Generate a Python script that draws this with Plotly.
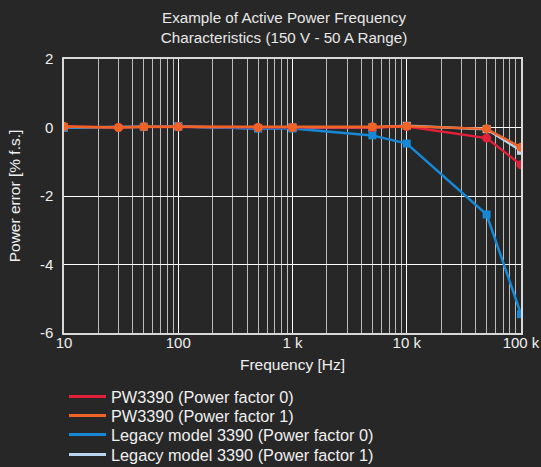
import plotly.graph_objects as go

title_text = "Example of Active Power Frequency<br>Characteristics (150 V - 50 A Range)"
x_title = "Frequency [Hz]"
y_title = "Power error [% f.s.]"

freq_pw = [10, 30, 50, 100, 500, 1000, 5000, 10000, 50000, 100000]
pw_pf0 = [0.03, 0.0, 0.02, 0.02, 0.0, 0.0, 0.0, 0.03, -0.31, -1.09]
pw_pf1 = [0.03, 0.0, 0.02, 0.02, 0.0, 0.0, 0.02, 0.04, -0.04, -0.58]

freq_legacy = [10, 50, 100, 500, 1000, 5000, 10000, 50000, 100000]
leg_pf0 = [0.0, 0.02, 0.03, -0.03, -0.03, -0.23, -0.47, -2.54, -5.45]
leg_pf1 = [0.0, 0.02, 0.03, -0.02, 0.0, 0.0, 0.05, -0.05, -0.68]

x_tickvals = [10, 100, 1000, 10000, 100000]
x_ticktext = ["10", "100", "1 k", "10 k", "100 k"]
y_tickvals = [-6, -4, -2, 0, 2]
y_ticktext = ["-6", "-4", "-2", "0", "2"]

names = ["PW3390 (Power factor 0)", "PW3390 (Power factor 1)",
         "Legacy model 3390 (Power factor 0)", "Legacy model 3390 (Power factor 1)"]
colors = ["#e41f3a", "#ef6327", "#1688d6", "#b9d5f0"]

BG = "#272727"
TXT = "#f0f0f0"
fig = go.Figure()

series = [
    (freq_legacy, leg_pf1, 3, "square", 8),
    (freq_legacy, leg_pf0, 2, "square", 8),
    (freq_pw, pw_pf0, 0, "circle", 9),
    (freq_pw, pw_pf1, 1, "circle", 9),
]
for xs, ys, idx, sym, sz in series:
    fig.add_trace(go.Scatter(x=xs, y=ys, name=names[idx], mode="lines+markers",
                             line=dict(color=colors[idx], width=2.5),
                             marker=dict(symbol=sym, size=sz, color=colors[idx]),
                             showlegend=False))

# legend entries (line only), one small legend per entry for tight row spacing
legend_ids = ["legend", "legend2", "legend3", "legend4"]
for idx in range(4):
    fig.add_trace(go.Scatter(x=[None], y=[None], name=names[idx], mode="lines",
                             line=dict(color=colors[idx], width=3),
                             showlegend=True, legend=legend_ids[idx]))

font_family = "Liberation Sans, Arial, sans-serif"
legend_rows_y = [0.150, 0.1092, 0.0685, 0.0257]
legend_layout = {}
for lid, ly in zip(legend_ids, legend_rows_y):
    legend_layout[lid] = dict(x=0.0, xanchor="left", yref="container", y=ly,
                              yanchor="middle", bgcolor="rgba(0,0,0,0)",
                              font=dict(size=16.3, color=TXT), itemwidth=37)

fig.update_layout(
    width=541, height=467,
    paper_bgcolor=BG, plot_bgcolor=BG,
    margin=dict(l=64, r=20, t=59, b=134),
    font=dict(family=font_family, size=15, color=TXT),
    title=dict(text=title_text, x=0.525, xanchor="center", y=0.951, yanchor="top",
               font=dict(size=15.2, color="#e8e8e8")),
    showlegend=True,
    xaxis=dict(type="log", range=[1, 5], tickvals=x_tickvals, ticktext=x_ticktext,
               automargin=False, ticklabelstandoff=-5,
               showgrid=True, gridcolor="#ffffff", gridwidth=1,
               minor=dict(showgrid=True, gridcolor="#bdbdbd", gridwidth=1,
                          dtick="D1"),
               showline=True, linecolor="#d8d8d8", linewidth=1.5, mirror=True,
               ticks="", tickfont=dict(size=15, color=TXT),
               title=dict(text=x_title, font=dict(size=15.5, color=TXT), standoff=9),
               zeroline=False),
    yaxis=dict(range=[-6, 2], tickvals=y_tickvals, ticktext=y_ticktext,
               automargin=False, ticklabelstandoff=6,
               showgrid=True, gridcolor="#ffffff", gridwidth=1,
               showline=True, linecolor="#d8d8d8", linewidth=1.5, mirror=True,
               ticks="", tickfont=dict(size=15, color=TXT),
               title=dict(text=y_title, font=dict(size=15.5, color=TXT)),
               zeroline=False),
    **legend_layout,
)

fig.write_html("out.html", config={"displayModeBar": False},
               post_script="document.body.style.margin='0';document.body.style.overflow='hidden';")
